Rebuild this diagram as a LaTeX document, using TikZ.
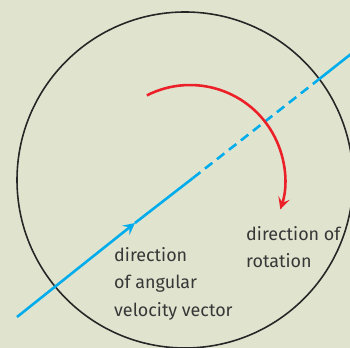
\documentclass[tikz,border=0pt]{standalone}
\usepackage{fontspec}
\setmainfont{Fira Sans}
\usetikzlibrary{arrows.meta}
\definecolor{bgsage}{RGB}{224,228,207}
\definecolor{axisblue}{RGB}{0,172,236}
\definecolor{spinred}{RGB}{236,32,40}
\definecolor{inkgray}{RGB}{55,55,55}

\begin{document}
\begin{tikzpicture}[x=0.03cm,y=0.03cm,
      >={Stealth[length=3.6mm,width=3.6mm,inset=1.5mm]},
      rim/.style={draw=black!85,line width=1.35pt},
      axis/.style={draw=axisblue,line width=2.2pt},
      hidden/.style={axis,dash pattern=on 8pt off 5pt},
      spin/.style={draw=spinred,line width=2.2pt,->},
      lbl/.style={font=\fontsize{15.3}{23.5}\selectfont,text=inkgray,
        align=left,inner sep=0pt,anchor=north west}
    ]
    \fill[bgsage] (0,0) rectangle (350,348);
    \useasboundingbox (0,0) rectangle (350,348);
    \clip (0,0) rectangle (350,348);
    % the disc
    \coordinate (O) at (185,168);
    \draw[rim] (O) circle[radius=168];
    % rotation axis, hidden behind the disc between C and D
    \coordinate (A) at (17,31);
    \coordinate (M) at (135,125);
    \coordinate (C) at (193,170);
    \coordinate (D) at (318,268);
    \coordinate (E) at (351,294);
    \draw[axis,->] (A) -- (M);
    \draw[axis] (M) -- (C);
    \draw[hidden] (C) -- (D);
    \draw[axis] (D) -- (E);
    % sense of rotation
    \coordinate (S) at (146.9,252.6);
    \draw[spin] (S) arc[start angle=117,end angle=-18,radius=95];
    \node[lbl] (w) at (114,101)
      {direction\\ of angular\\ velocity vector};
    \node[lbl] (r) at (246,122)
      {direction of\\ rotation};
  \end{tikzpicture}
\end{document}
